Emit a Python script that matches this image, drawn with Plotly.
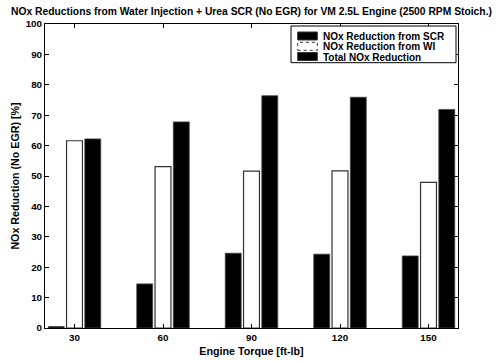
import plotly.graph_objects as go

# Engine torque operating points [ft-lb]
torque = [30, 60, 90, 120, 150]

# NOx reduction percentages (no EGR)
scr_reduction = [0.5, 14.5, 24.6, 24.3, 23.7]
wi_reduction = [61.6, 53.1, 51.6, 51.7, 47.9]
total_reduction = [62.2, 67.8, 76.4, 75.9, 71.9]

series_names = ["NOx Reduction from SCR", "NOx Reduction from WI", "Total NOx Reduction"]
y_ticks = list(range(0, 101, 10))

FONT = "Liberation Sans, Arial, Helvetica, sans-serif"

fig = go.Figure()
fig.add_trace(go.Bar(x=torque, y=scr_reduction, name=series_names[0],
                     marker=dict(color="black", line=dict(color="#444", width=0.8))))
fig.add_trace(go.Bar(x=torque, y=wi_reduction, name=series_names[1],
                     marker=dict(color="white", line=dict(color="#333", width=1.2))))
fig.add_trace(go.Bar(x=torque, y=total_reduction, name=series_names[2],
                     marker=dict(color="black", line=dict(color="#444", width=0.8))))

axis_common = dict(
    showline=True, linecolor="black", linewidth=1, mirror="ticks",
    ticks="inside", ticklen=4, tickcolor="black", showgrid=False, zeroline=False,
    automargin=False,
    tickfont=dict(family=FONT, size=9.8, color="black", weight="bold"),
)

fig.update_layout(
    width=501, height=361,
    margin=dict(l=45, r=43, t=24, b=33),
    paper_bgcolor="white", plot_bgcolor="white",
    barmode="group", bargap=0.38, bargroupgap=0.13,
    showlegend=False,
    title=dict(
        text="NOx Reductions from Water Injection + Urea SCR (No EGR) for VM 2.5L Engine (2500 RPM Stoich.)",
        x=0.5, xref="paper", xanchor="center", y=1 - 11 / 361, yanchor="middle",
        font=dict(family=FONT, size=10.3, color="black", weight="bold"),
    ),
    xaxis=dict(range=[20, 160], tickvals=torque, ticktext=[str(t) for t in torque],
               title=dict(text="Engine Torque [ft-lb]", standoff=5,
                          font=dict(family=FONT, size=10.7, color="black", weight="bold")),
               **axis_common),
    yaxis=dict(range=[0, 100], tickvals=y_ticks, title=dict(text="NOx Reduction (No EGR) [%]", standoff=3,
                          font=dict(family=FONT, size=10.7, color="black", weight="bold")),
               **axis_common),
)

# Compact boxed legend in the upper right corner of the axes
plot_w = 501 - 45 - 43
plot_h = 361 - 24 - 33


def px_x(p):
    return (p - 45) / plot_w


def px_y(p):
    return (328 - p) / plot_h


legend_left, legend_right = 291, 456
legend_top, legend_bottom = 26, 62.7
fig.add_shape(type="rect", xref="paper", yref="paper",
              x0=px_x(legend_left), x1=px_x(legend_right),
              y0=px_y(legend_bottom), y1=px_y(legend_top),
              line=dict(color="black", width=1), fillcolor="white")
swatch_fill = ["black", "white", "black"]
row_y = [36, 46.3, 56.5]
for name, fill, yc in zip(series_names, swatch_fill, row_y):
    fig.add_shape(type="rect", xref="paper", yref="paper",
                  x0=px_x(297.7), x1=px_x(317.3), y0=px_y(yc + 4), y1=px_y(yc - 4),
                  line=dict(color="#333", width=1, dash="dot" if fill == "white" else "solid"),
                  fillcolor=fill)
    fig.add_annotation(xref="paper", yref="paper", x=px_x(322), y=px_y(yc),
                       xanchor="left", yanchor="middle", showarrow=False, text=name,
                       height=10, valign="middle", borderpad=0,
                       font=dict(family=FONT, size=10, color="black", weight="bold"))

fig.write_html("out.html")
